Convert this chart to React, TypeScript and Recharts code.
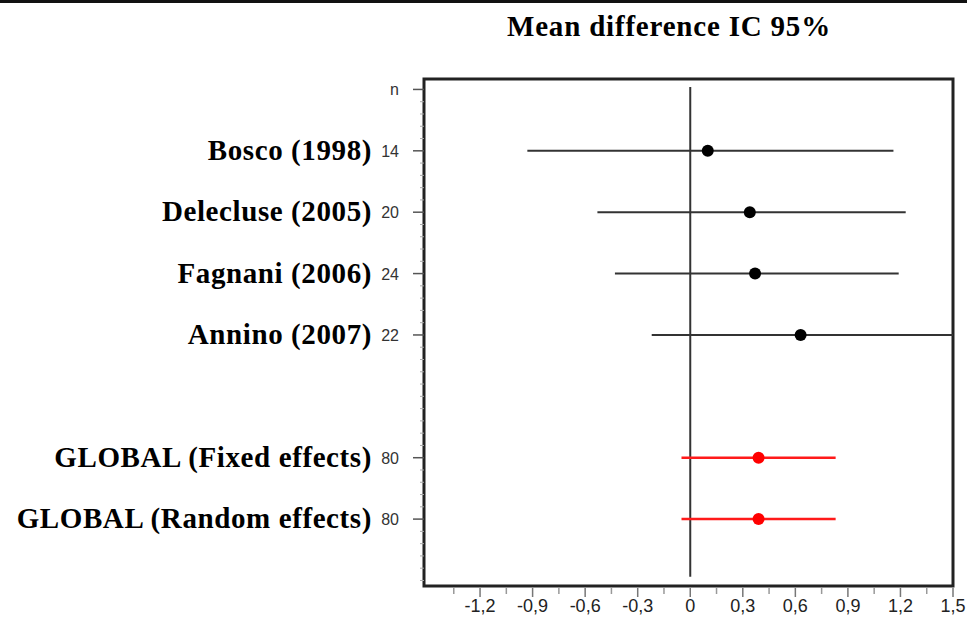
import { ComposedChart, Scatter, ErrorBar, XAxis, YAxis, ReferenceLine, ReferenceArea } from 'recharts';

// studies (row index = position from the "n" header row)
const studyNames = ['Bosco (1998)', 'Delecluse (2005)', 'Fagnani (2006)', 'Annino (2007)'];
const studyN = [14, 20, 24, 22];
const studyRows = [1, 2, 3, 4];
const studyMean = [0.1, 0.34, 0.37, 0.63];
const studyLow = [-0.93, -0.53, -0.43, -0.22];
const studyHigh = [1.16, 1.23, 1.19, 1.5];

// pooled estimates
const globalNames = ['GLOBAL (Fixed effects)', 'GLOBAL (Random effects)'];
const globalN = [80, 80];
const globalRows = [6, 7];
const globalMean = [0.39, 0.39];
const globalLow = [-0.05, -0.05];
const globalHigh = [0.83, 0.83];

const xTicks = [-1.2, -0.9, -0.6, -0.3, 0, 0.3, 0.6, 0.9, 1.2, 1.5];
const xMinorTicks = [-1.35, -1.05, -0.75, -0.45, -0.15, 0.15, 0.45, 0.75, 1.05, 1.35];

const W = 967;
const H = 621;
const PLOT_LEFT = 424;
const PLOT_RIGHT = 953;
const PLOT_TOP = 79;
const PLOT_BOTTOM = 586;
const X_DOMAIN: [number, number] = [-1.52, 1.5];
const Y_DOMAIN: [number, number] = [-0.17, 8.09];

const serif = '"Liberation Serif", "Times New Roman", serif';
const sans = '"Liberation Sans", Arial, sans-serif';

const toPoints = (rows: number[], mean: number[], low: number[], high: number[]) =>
  rows.map((r, i) => ({ x: mean[i], y: r, err: [mean[i] - low[i], high[i] - mean[i]] }));

const studyData = toPoints(studyRows, studyMean, studyLow, studyHigh);
const globalData = toPoints(globalRows, globalMean, globalLow, globalHigh);

const rowLabels: Record<number, { name: string; n: string }> = { 0: { name: '', n: 'n' } };
studyRows.forEach((r, i) => (rowLabels[r] = { name: studyNames[i], n: String(studyN[i]) }));
globalRows.forEach((r, i) => (rowLabels[r] = { name: globalNames[i], n: String(globalN[i]) }));

const yTicks: number[] = [];
for (let i = 0; i <= 40; i++) yTicks.push(Math.round(i * 0.2 * 100) / 100);

const YTick = (props: any) => {
  const { y, payload } = props;
  const lab = rowLabels[payload.value];
  if (!lab) {
    return <line x1={PLOT_LEFT - 4} x2={PLOT_LEFT} y1={y} y2={y} stroke="#aaa" strokeWidth={1} />;
  }
  return (
    <g>
      <line x1={PLOT_LEFT - 11} x2={PLOT_LEFT} y1={y} y2={y} stroke="#555" strokeWidth={1.5} />
      <text x={399} y={y} dy={6} textAnchor="end" fontFamily={sans} fontSize={16} fill="#333">
        {lab.n}
      </text>
      {lab.name && (
        <text x={372} y={y} dy={9} textAnchor="end" fontFamily={serif} fontWeight="bold" fontSize={29} letterSpacing={0.6} fill="#000">
          {lab.name}
        </text>
      )}
    </g>
  );
};

const XTick = (props: any) => {
  const { x, payload } = props;
  const v: number = payload.value;
  const major = xTicks.includes(v);
  if (!major) {
    return <line x1={x} x2={x} y1={PLOT_BOTTOM + 2} y2={PLOT_BOTTOM + 8} stroke="#999" strokeWidth={1.5} />;
  }
  return (
    <g>
      <line x1={x} x2={x} y1={PLOT_BOTTOM + 2} y2={PLOT_BOTTOM + 11} stroke="#777" strokeWidth={1.5} />
      <text x={x} y={PLOT_BOTTOM + 26} textAnchor="middle" fontFamily={sans} fontSize={18} fill="#222">
        {String(v).replace('.', ',')}
      </text>
    </g>
  );
};

const Dot = (color: string) => (props: any) => <circle cx={props.cx} cy={props.cy} r={6} fill={color} />;

export default function App() {
  return (
    <div style={{ position: 'absolute', left: 0, top: 0, width: W, height: H, background: '#fff' }}>
      <div style={{ position: 'absolute', left: 0, top: 0, width: W, height: 3, background: '#111' }} />
      <div
        style={{
          position: 'absolute',
          left: 0,
          top: 12,
          width: 1338,
          textAlign: 'center',
          fontFamily: serif,
          fontWeight: 'bold',
          fontSize: 29,
          lineHeight: '29px',
          letterSpacing: 0.8,
          color: '#000',
        }}
      >
        Mean difference IC 95%
      </div>
      <ComposedChart
        width={W}
        height={H}
        margin={{ top: PLOT_TOP, right: W - PLOT_RIGHT, bottom: 0, left: 0 }}
        style={{ position: 'absolute', left: 0, top: 0 }}
      >
        <XAxis
          type="number"
          dataKey="x"
          domain={X_DOMAIN}
          allowDataOverflow
          ticks={[...xMinorTicks, ...xTicks].sort((a, b) => a - b)}
          interval={0}
          tick={<XTick />}
          tickLine={false}
          axisLine={false}
          height={H - PLOT_BOTTOM}
        />
        <YAxis
          type="number"
          dataKey="y"
          domain={Y_DOMAIN}
          allowDataOverflow
          reversed
          ticks={yTicks}
          interval={0}
          tick={<YTick />}
          tickLine={false}
          axisLine={false}
          width={PLOT_LEFT}
        />
        <ReferenceArea
          x1={X_DOMAIN[0]}
          x2={X_DOMAIN[1]}
          y1={Y_DOMAIN[0]}
          y2={Y_DOMAIN[1]}
          fill="none"
          stroke="#222"
          strokeWidth={3}
          ifOverflow="visible"
        />
        <ReferenceLine
          segment={[{ x: 0, y: -0.04 }, { x: 0, y: 7.94 }]}
          stroke="#333"
          strokeWidth={2}
        />
        <Scatter data={studyData} fill="#000" shape={Dot('#000')} isAnimationActive={false}>
          <ErrorBar dataKey="err" direction="x" width={0} stroke="#333" strokeWidth={2} isAnimationActive={false} />
        </Scatter>
        <Scatter data={globalData} fill="#ff0000" shape={Dot('#ff0000')} isAnimationActive={false}>
          <ErrorBar dataKey="err" direction="x" width={0} stroke="#ff1a1a" strokeWidth={2.5} isAnimationActive={false} />
        </Scatter>
      </ComposedChart>
    </div>
  );
}
